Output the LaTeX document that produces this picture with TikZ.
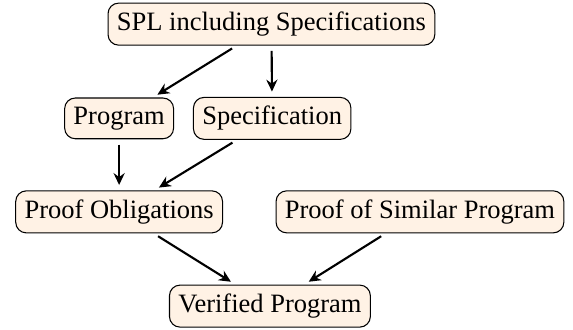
\documentclass[tikz,border=0pt]{standalone}
\usepackage{fontspec}
\setmainfont{Liberation Serif}
\usetikzlibrary{arrows.meta, positioning}

\begin{document}
\begin{tikzpicture}[
  artifact/.style={draw, rounded corners=4pt, fill=orange!10, font=\normalsize, inner sep=3.33pt},
  flow/.style={-{Stealth[length=4.5pt, width=4.2pt, inset=1.5pt]}, thick, shorten >=2pt, shorten <=2pt},
]

\useasboundingbox (0,0) rectangle (7.60,-4.366);

% Eingabe: Produktlinie
\node[artifact] (spl) at (3.60,-0.32) {SPL including Specifications};

% Variante
\node[artifact] (program) at (1.58,-1.57) {Program};
\node[artifact] (spec) at (3.61,-1.57) {Specification};

% Beweisaufgaben
\node[artifact] (obligations) at (1.58,-2.81) {Proof Obligations};
\node[artifact] (similar) at (5.57,-2.81) {Proof of Similar Program};

% Ergebnis
\node[artifact] (verified) at (3.58,-4.06) {Verified Program};

% Kanten
\draw[flow] (spl) -- (program);
\draw[flow] (spl) -- (spec);
\draw[flow] (program) -- (obligations);
\draw[flow] (spec) -- (obligations);
\draw[flow] (obligations) -- (verified);
\draw[flow] (similar) -- (verified);

\end{tikzpicture}
\end{document}
